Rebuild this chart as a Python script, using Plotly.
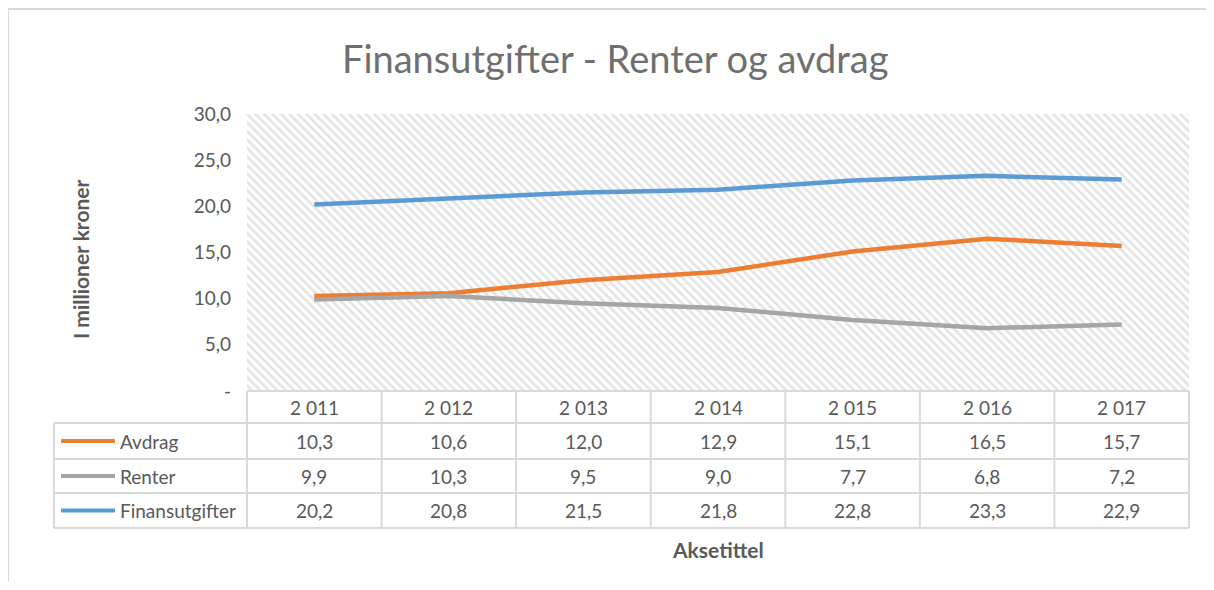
import plotly.graph_objects as go

# data
years = ["2 011", "2 012", "2 013", "2 014", "2 015", "2 016", "2 017"]
avdrag = [10.3, 10.6, 12.0, 12.9, 15.1, 16.5, 15.7]
renter = [9.9, 10.3, 9.5, 9.0, 7.7, 6.8, 7.2]
finans = [20.2, 20.8, 21.5, 21.8, 22.8, 23.3, 22.9]
series_names = ["Avdrag", "Renter", "Finansutgifter"]
series_colors = ["#ED7D31", "#A5A5A5", "#5B9BD5"]
ytick_vals = [0, 5, 10, 15, 20, 25, 30]
ytick_text = ["-", "5,0", "10,0", "15,0", "20,0", "25,0", "30,0"]

# page is 1214x590, body margin 8px -> figure fits inside
OFF = 8
W, H = 1214 - 2 * OFF, 590 - 2 * OFF
FONT = "Lato"
TXT = "#595959"
GRID = "#D9D9D9"


# page pixel -> paper coords
def px(x):
    return (x - OFF) / W


def py(y):
    return 1 - (y - OFF) / H


plot_l, plot_r, plot_t, plot_b = 247, 1189, 114, 391
leg_l = 54
row_edges = [391, 423, 459, 493, 528]

n = len(years)
xs = list(range(n))

fig = go.Figure()

# hatched plot-area background
fig.add_trace(go.Scatter(
    x=[-0.5, n - 0.5, n - 0.5, -0.5, -0.5], y=[0, 0, 30, 30, 0],
    fill="toself", mode="none", fillcolor="white",
    fillpattern=dict(shape="\\", fgcolor="#C9C9C9", bgcolor="white", size=6, solidity=0.45),
    hoverinfo="skip", showlegend=False,
))

for name, vals, col in zip(series_names, [avdrag, renter, finans], series_colors):
    fig.add_trace(go.Scatter(x=xs, y=vals, mode="lines", name=name,
                             line=dict(color=col, width=4.5), showlegend=False))

shapes = []
ann = []

# chart outer border
shapes.append(dict(type="rect", xref="paper", yref="paper",
                   x0=px(8), x1=px(1240), y0=py(620), y1=py(9),
                   line=dict(color=GRID, width=2)))

# table: horizontal lines
for i, ye in enumerate(row_edges):
    x0 = plot_l if i == 0 else leg_l
    shapes.append(dict(type="line", xref="paper", yref="paper",
                       x0=px(x0), x1=px(plot_r), y0=py(ye), y1=py(ye),
                       line=dict(color=GRID, width=2)))
# table: vertical lines (category boundaries)
colw = (plot_r - plot_l) / n
for k in range(n + 1):
    xv = plot_l + k * colw
    shapes.append(dict(type="line", xref="paper", yref="paper",
                       x0=px(xv), x1=px(xv), y0=py(row_edges[0]), y1=py(row_edges[-1]),
                       line=dict(color=GRID, width=2)))
shapes.append(dict(type="line", xref="paper", yref="paper",
                   x0=px(leg_l), x1=px(leg_l), y0=py(row_edges[1]), y1=py(row_edges[-1]),
                   line=dict(color=GRID, width=2)))

cell_font = dict(family=FONT, size=19, color=TXT)

# header row labels
for k, yr in enumerate(years):
    ann.append(dict(x=px(plot_l + (k + 0.5) * colw), y=py((row_edges[0] + row_edges[1]) / 2),
                    xref="paper", yref="paper", xanchor="center", yanchor="middle",
                    text=yr, showarrow=False, font=cell_font))

# data rows
for r, (name, vals, col) in enumerate(zip(series_names, [avdrag, renter, finans], series_colors)):
    yc = (row_edges[r + 1] + row_edges[r + 2]) / 2
    shapes.append(dict(type="line", xref="paper", yref="paper",
                       x0=px(61), x1=px(115), y0=py(yc), y1=py(yc),
                       line=dict(color=col, width=4)))
    ann.append(dict(x=px(118), y=py(yc), xref="paper", yref="paper",
                    xanchor="left", yanchor="middle", text=name, showarrow=False,
                    font=cell_font))
    for k, v in enumerate(vals):
        ann.append(dict(x=px(plot_l + (k + 0.5) * colw), y=py(yc),
                        xref="paper", yref="paper", xanchor="center", yanchor="middle",
                        text=f"{v:.1f}".replace(".", ","),
                        showarrow=False, font=cell_font))

# title and axis titles
ann.append(dict(x=px(615), y=py(58), xref="paper", yref="paper",
                xanchor="center", yanchor="middle",
                text="Finansutgifter - Renter og avdrag", showarrow=False,
                font=dict(family=FONT, size=38, color="#6F6F6F")))
ann.append(dict(x=px(80), y=py(259), xref="paper", yref="paper", textangle=-90,
                xanchor="center", yanchor="middle",
                text="<b>I millioner kroner</b>", showarrow=False,
                font=dict(family=FONT, size=21, color=TXT)))
ann.append(dict(x=px(718), y=py(549), xref="paper", yref="paper",
                xanchor="center", yanchor="middle",
                text="<b>Aksetittel</b>", showarrow=False,
                font=dict(family=FONT, size=21, color=TXT)))

fig.update_layout(
    width=W, height=H,
    margin=dict(l=0, r=0, t=0, b=0),
    paper_bgcolor="white", plot_bgcolor="white",
    showlegend=False,
    shapes=shapes, annotations=ann,
    xaxis=dict(domain=[px(plot_l), px(plot_r)], range=[-0.5, n - 0.5],
               tickvals=[k - 0.5 for k in range(n + 1)], showticklabels=False,
               showgrid=True, gridcolor=GRID, gridwidth=2, zeroline=False,
               ticks="", layer="above traces", automargin=False),
    yaxis=dict(domain=[py(plot_b), py(plot_t)], range=[0, 30],
               tickvals=ytick_vals, ticktext=ytick_text,
               showgrid=True, gridcolor=GRID, gridwidth=2, zeroline=False,
               ticks="", ticklabelstandoff=15, automargin=False,
               tickfont=dict(family=FONT, size=19, color=TXT),
               layer="above traces"),
)

fig.write_html("out.html")
